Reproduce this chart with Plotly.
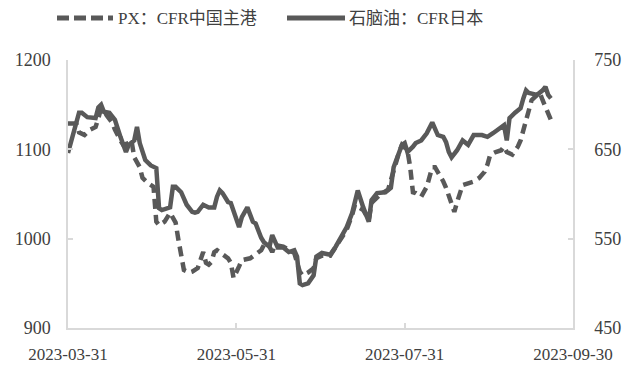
import plotly.graph_objects as go

naphtha_dates = ["2023-03-31","2023-04-04","2023-04-05","2023-04-07","2023-04-10","2023-04-11","2023-04-12","2023-04-13","2023-04-15","2023-04-17",
"2023-04-19","2023-04-21","2023-04-22","2023-04-24","2023-04-25","2023-04-26","2023-04-28","2023-04-30","2023-05-02","2023-05-03",
"2023-05-04","2023-05-07","2023-05-08","2023-05-09","2023-05-11","2023-05-13","2023-05-15","2023-05-16","2023-05-17","2023-05-19",
"2023-05-21","2023-05-23","2023-05-24","2023-05-25","2023-05-26","2023-05-28","2023-05-29","2023-06-01","2023-06-02","2023-06-04",
"2023-06-06","2023-06-07","2023-06-09","2023-06-10","2023-06-12","2023-06-13","2023-06-15","2023-06-17","2023-06-19","2023-06-21",
"2023-06-22","2023-06-23","2023-06-24","2023-06-26","2023-06-28","2023-06-29","2023-07-01","2023-07-04","2023-07-06","2023-07-08",
"2023-07-10","2023-07-12","2023-07-14","2023-07-16","2023-07-18","2023-07-19","2023-07-21","2023-07-24","2023-07-26","2023-07-27",
"2023-07-29","2023-07-30","2023-07-31","2023-08-01","2023-08-03","2023-08-04","2023-08-06","2023-08-08","2023-08-10","2023-08-12",
"2023-08-14","2023-08-15","2023-08-16","2023-08-17","2023-08-19","2023-08-21","2023-08-23","2023-08-25","2023-08-28","2023-08-30",
"2023-09-01","2023-09-04","2023-09-05","2023-09-06","2023-09-07","2023-09-09","2023-09-11","2023-09-12","2023-09-13","2023-09-14",
"2023-09-17","2023-09-19","2023-09-20","2023-09-21","2023-09-22"]
naphtha_values = [646,691,691,686,685,697,700,692,691,683,
664,647,655,660,675,657,638,632,629,584,
582,585,608,608,602,588,580,579,580,588,
585,585,597,604,601,591,590,563,574,585,
569,567,551,546,541,554,540,540,535,537,
530,500,498,500,509,530,534,532,541,551,
563,579,604,585,569,593,601,602,607,630,
649,655,657,647,653,657,660,668,680,666,
664,658,647,641,649,660,655,666,666,664,
668,674,677,660,685,691,696,707,716,713,
711,716,720,711,707]

px_dates = ["2023-03-31","2023-04-03","2023-04-04","2023-04-06","2023-04-08","2023-04-10","2023-04-11","2023-04-12","2023-04-13","2023-04-14",
"2023-04-16","2023-04-17","2023-04-19","2023-04-20","2023-04-22","2023-04-23","2023-04-24","2023-04-26","2023-04-27","2023-04-29",
"2023-05-01","2023-05-02","2023-05-03","2023-05-05","2023-05-07","2023-05-08","2023-05-09","2023-05-10","2023-05-11","2023-05-12",
"2023-05-14","2023-05-15","2023-05-17","2023-05-18","2023-05-19","2023-05-20","2023-05-21","2023-05-22","2023-05-23","2023-05-24",
"2023-05-26","2023-05-28","2023-05-29","2023-05-30","2023-06-01","2023-06-02","2023-06-05","2023-06-07","2023-06-09","2023-06-10",
"2023-06-12","2023-06-13","2023-06-14","2023-06-17","2023-06-19","2023-06-21","2023-06-23","2023-06-24","2023-06-26","2023-06-28",
"2023-06-29","2023-07-01","2023-07-04","2023-07-06","2023-07-08","2023-07-10","2023-07-12","2023-07-13","2023-07-16","2023-07-18",
"2023-07-19","2023-07-22","2023-07-25","2023-07-27","2023-07-29","2023-07-30","2023-08-01","2023-08-02","2023-08-03","2023-08-04",
"2023-08-06","2023-08-08","2023-08-09","2023-08-10","2023-08-11","2023-08-12","2023-08-14","2023-08-15","2023-08-16","2023-08-17",
"2023-08-18","2023-08-19","2023-08-20","2023-08-21","2023-08-23","2023-08-25","2023-08-27","2023-08-29","2023-08-30","2023-08-31",
"2023-09-02","2023-09-04","2023-09-05","2023-09-06","2023-09-08","2023-09-10","2023-09-11","2023-09-12","2023-09-13","2023-09-14",
"2023-09-15","2023-09-17","2023-09-18","2023-09-19","2023-09-21","2023-09-22"]
px_values = [1129,1129,1119,1116,1122,1125,1135,1146,1144,1138,
1130,1122,1110,1105,1107,1110,1091,1080,1068,1062,
1058,1019,1015,1019,1029,1024,1018,999,980,965,
962,963,967,976,985,973,971,974,985,987,
982,978,973,956,969,976,978,982,987,993,
991,985,993,991,987,984,963,959,962,967,
978,981,981,991,999,1010,1027,1038,1032,1021,
1040,1049,1055,1077,1097,1105,1099,1080,1052,1051,
1047,1058,1068,1080,1080,1075,1064,1057,1047,1038,
1030,1041,1051,1060,1062,1064,1068,1075,1083,1094,
1097,1099,1103,1097,1094,1103,1110,1122,1133,1146,
1155,1161,1163,1155,1138,1133]

x_tick_vals = ["2023-03-31","2023-05-31","2023-07-31","2023-09-30"]
x_tick_text = ["2023-03-31","2023-05-31","2023-07-31","2023-09-30"]
left_ticks = [900,1000,1100,1200]
right_ticks = [450,550,650,750]
px_name = "PX：CFR中国主港"
naphtha_name = "石脑油：CFR日本"

LINE = "#595959"
AX = "#d9d9d9"
TXT = "#404040"
FONT = "Liberation Serif, Times New Roman, Noto Sans CJK SC, serif"

fig = go.Figure()
fig.add_trace(go.Scatter(x=px_dates, y=px_values, name=px_name, mode="lines",
                         line=dict(color=LINE, width=4.5, dash="10px,6px"), yaxis="y", showlegend=False))
fig.add_trace(go.Scatter(x=naphtha_dates, y=naphtha_values, name=naphtha_name, mode="lines",
                         line=dict(color=LINE, width=4.5), yaxis="y2", showlegend=False))

fig.update_layout(
    width=633, height=380,
    margin=dict(l=68, r=60, t=60, b=52),
    paper_bgcolor="white", plot_bgcolor="white",
    font=dict(family=FONT, size=16, color=TXT),
    xaxis=dict(type="date", range=["2023-03-31", "2023-09-30"],
               tickvals=x_tick_vals, ticktext=x_tick_text,
               showgrid=False, zeroline=False, showline=True, linecolor=AX, linewidth=1.5,
               ticks="inside", ticklen=5, tickcolor=AX, tickwidth=1.5,
               ticklabelstandoff=10, tickfont=dict(size=17)),
    yaxis=dict(range=[900, 1200], tickvals=left_ticks, showgrid=False, zeroline=False,
               showline=True, linecolor=AX, linewidth=1.5,
               ticks="inside", ticklen=5, tickcolor=AX, tickwidth=1.5,
               ticklabelstandoff=12, tickfont=dict(size=18)),
    yaxis2=dict(range=[450, 750], tickvals=right_ticks, overlaying="y", side="right",
                showgrid=False, zeroline=False, showline=True, linecolor=AX, linewidth=1.5,
                ticks="inside", ticklen=5, tickcolor=AX, tickwidth=1.5,
                ticklabelstandoff=16, tickfont=dict(size=18)),
)

# legend drawn at the top
ly = (328 - 18) / 268
fig.add_shape(type="line", xref="paper", yref="paper", x0=(57 - 68) / 505, x1=(113 - 68) / 505,
              y0=ly, y1=ly, line=dict(color=LINE, width=5, dash="12px,5px"))
fig.add_annotation(xref="paper", yref="paper", x=(116 - 68) / 505, y=ly, text=px_name,
                   showarrow=False, xanchor="left", yanchor="middle", font=dict(size=17, color=TXT))
fig.add_shape(type="line", xref="paper", yref="paper", x0=(287 - 68) / 505, x1=(345 - 68) / 505,
              y0=ly, y1=ly, line=dict(color=LINE, width=5))
fig.add_annotation(xref="paper", yref="paper", x=(347 - 68) / 505, y=ly, text=naphtha_name,
                   showarrow=False, xanchor="left", yanchor="middle", font=dict(size=17, color=TXT))

fig.write_html("out.html")
